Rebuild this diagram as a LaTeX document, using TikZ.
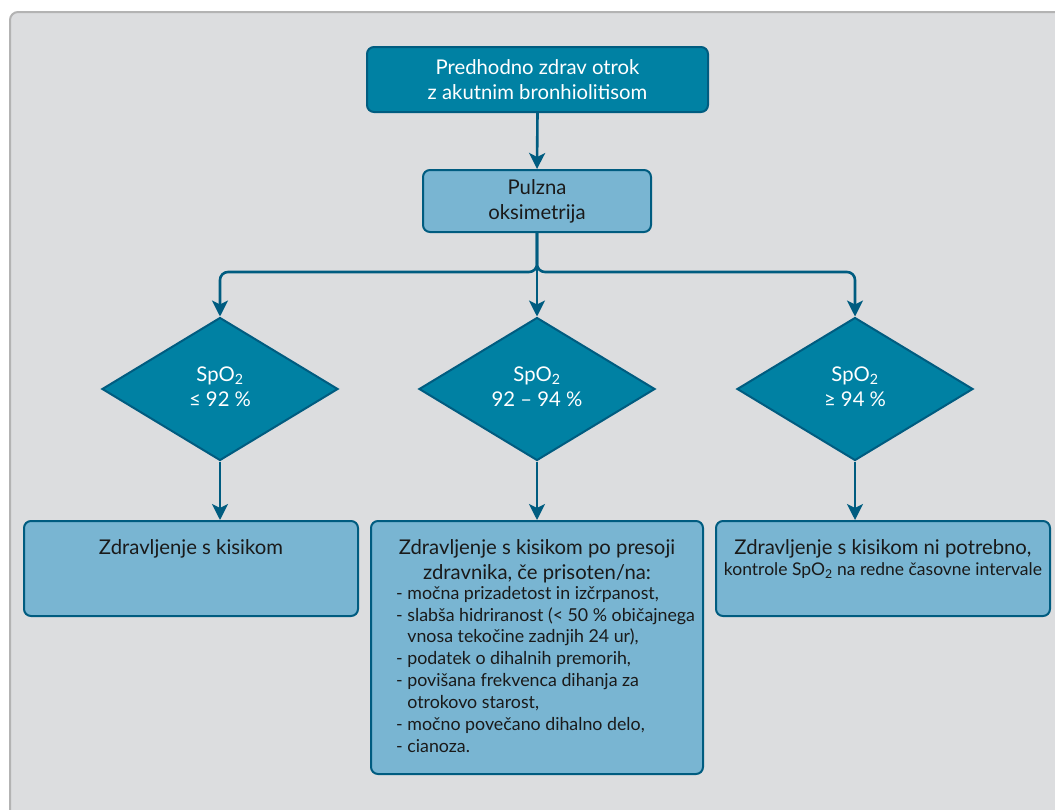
\documentclass[tikz,border=0pt]{standalone}
\usepackage{fontspec}
\setmainfont{Lato}
\usetikzlibrary{arrows.meta,shapes.geometric}
\definecolor{bgc}{HTML}{DCDDDF}
\definecolor{frame}{HTML}{B3B3B3}
\definecolor{teal}{HTML}{0081A3}
\definecolor{edge}{HTML}{005C80}
\definecolor{light}{HTML}{79B5D2}
\definecolor{ink}{HTML}{1A1A1A}
\tikzset{
  darkbox/.style={draw=edge, line width=2pt, fill=teal, rounded corners=7pt, inner sep=0pt},
  lightbox/.style={draw=edge, line width=2pt, fill=light, rounded corners=7pt, inner sep=0pt},
  decision/.style={diamond, draw=edge, line width=2pt, fill=teal, inner sep=0pt, aspect=1.65},
  arr/.style={draw=edge, line width=2.6pt, -{Stealth[length=16pt,width=16pt,inset=4pt]}},
  txt/.style={inner sep=0pt, align=center, font=\fontsize{20.3}{25}\selectfont},
}
\begin{document}
\begin{tikzpicture}[x=1pt,y=-1pt]
\useasboundingbox (0,0) rectangle (1055,809);
\fill[white] (0,0) rectangle (1055,809);
\draw[frame, line width=2pt, fill=bgc, rounded corners=8pt] (10,12) rectangle (1075,830);

\node[darkbox, minimum width=341pt, minimum height=65pt] (top) at (537.5,79.5) {};
\node[txt, text=white] (toptxt) at (top.center) {Predhodno zdrav otrok\\z akutnim bronhiolitisom};

\node[lightbox, minimum width=228pt, minimum height=62pt] (pulz) at (537,201) {};
\node[txt, text=ink] (pulztxt) at (pulz.center) {Pulzna\\oksimetrija};

\node[decision, minimum width=236pt, minimum height=143pt] (d1) at (220,389) {};
\node[decision, minimum width=236pt, minimum height=143pt] (d2) at (537,389) {};
\node[decision, minimum width=236pt, minimum height=143pt] (d3) at (855,389) {};
\node[txt, text=white] (d1t) at ([yshift=2pt]d1.center) {SpO\textsubscript{2}\\≤ 92 \%};
\node[txt, text=white] (d2t) at ([yshift=2pt]d2.center) {SpO\textsubscript{2}\\92 – 94 \%};
\node[txt, text=white] (d3t) at ([yshift=2pt]d3.center) {SpO\textsubscript{2}\\≥ 94 \%};

\node[lightbox, minimum width=334pt, minimum height=95pt, anchor=north] (b1) at (191,520) {};
\node[lightbox, minimum width=332pt, minimum height=253pt, anchor=north] (b2) at (537,520) {};
\node[lightbox, minimum width=334pt, minimum height=95pt, anchor=north] (b3) at (883,520) {};

\node[txt, text=ink, anchor=north] (b1t) at ([yshift=-19pt]b1.north) {Zdravljenje s kisikom};
\node[txt, text=ink, anchor=north] (b3t) at ([yshift=-19pt]b3.north) {Zdravljenje s kisikom ni potrebno,\\[-4pt]{\fontsize{17.5}{21}\selectfont kontrole SpO\textsubscript{2} na redne časovne intervale}};
\node[txt, text=ink, anchor=north] (b2t) at ([yshift=-19pt]b2.north) {Zdravljenje s kisikom po presoji\\zdravnika, če prisoten/na:};
\node[inner sep=0pt, anchor=north west, text=ink, font=\fontsize{17.8}{21.9}\selectfont, align=left] (b2l) at ([xshift=26pt,yshift=-3pt]b2t.south -| b2.west)
{- močna prizadetost in izčrpanost,\\
- slabša hidriranost (< 50 \% običajnega\\
\hphantom{- }vnosa tekočine zadnjih 24 ur),\\
- podatek o dihalnih premorih,\\
- povišana frekvenca dihanja za\\
\hphantom{- }otrokovo starost,\\
- močno povečano dihalno delo,\\
- cianoza.};

\draw[arr] (top.south) -- (pulz.north);
\draw[arr] (pulz.south) -- (d2.north);
\draw[arr, rounded corners=8pt] (pulz.south) -- (537,272) -| (d1.north);
\draw[arr, rounded corners=8pt] (pulz.south) -- (537,272) -| (d3.north);
\draw[arr] (d1.south) -- (b1.north -| d1.south);
\draw[arr] (d2.south) -- (b2.north);
\draw[arr] (d3.south) -- (b3.north -| d3.south);
\end{tikzpicture}
\end{document}
